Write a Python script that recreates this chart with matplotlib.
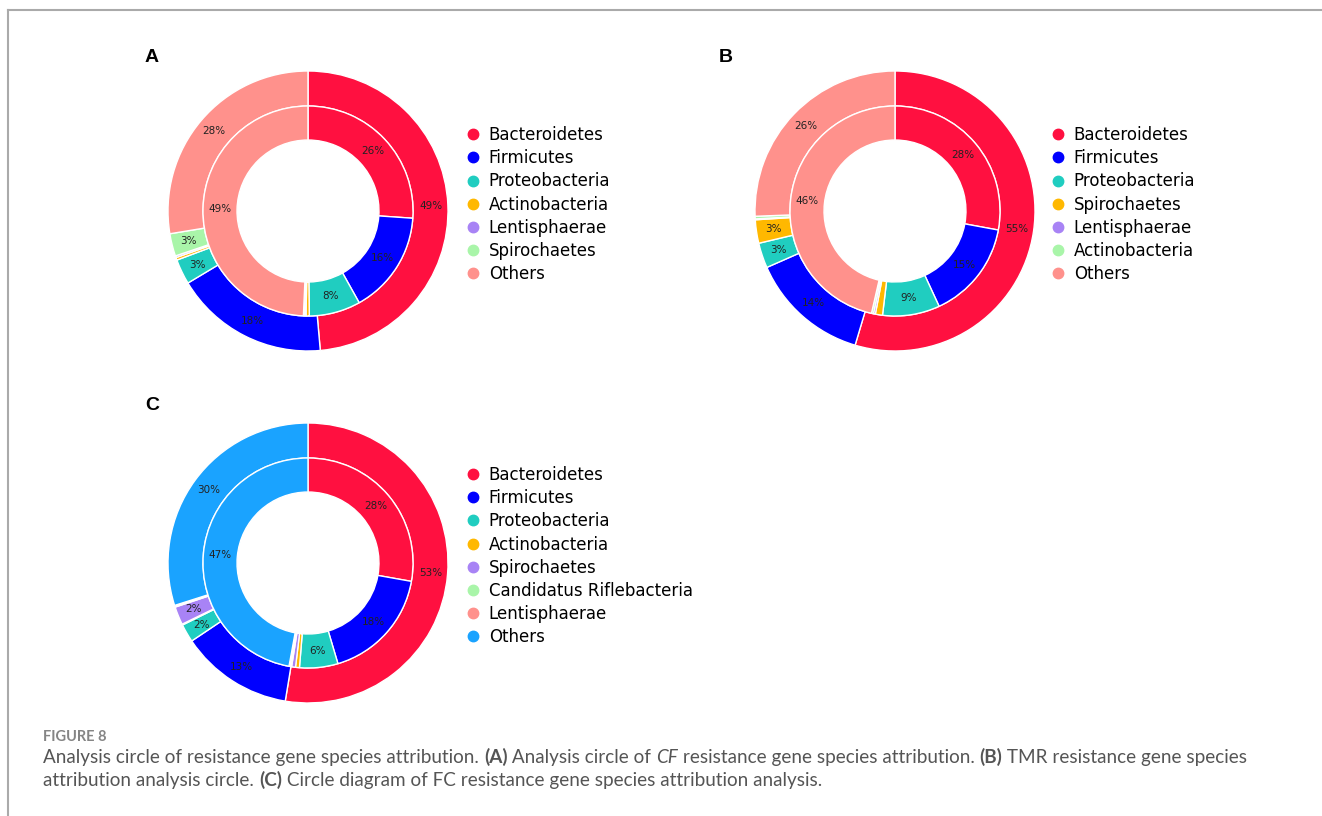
import matplotlib
matplotlib.use("Agg")
import matplotlib.pyplot as plt
from matplotlib.lines import Line2D

# 门类名称 / 内外圈占比
cats_A = ["Bacteroidetes", "Firmicutes", "Proteobacteria", "Actinobacteria",
          "Lentisphaerae", "Spirochaetes", "Others"]
outer_A = [48.6, 17.8, 2.9, 0.3, 0.2, 2.6, 27.6]
inner_A = [26.1, 15.8, 7.9, 0.5, 0.2, 0.2, 49.3]

cats_B = ["Bacteroidetes", "Firmicutes", "Proteobacteria", "Spirochaetes",
          "Lentisphaerae", "Actinobacteria", "Others"]
outer_B = [54.6, 13.8, 2.9, 2.7, 0.1, 0.3, 25.6]
inner_B = [27.9, 15.2, 8.8, 1.1, 0.3, 0.3, 46.4]

cats_C = ["Bacteroidetes", "Firmicutes", "Proteobacteria", "Actinobacteria",
          "Spirochaetes", "Candidatus Riflebacteria", "Lentisphaerae", "Others"]
outer_C = [52.6, 13.0, 2.1, 0.1, 2.1, 0.1, 0.1, 29.9]
inner_C = [27.8, 17.6, 5.9, 0.6, 0.6, 0.2, 0.2, 47.1]

palette = ["#FF1040", "#0000FF", "#20CDC0", "#FFB800", "#A883F5",
           "#A9F5A9", "#FF918C", "#1AA3FF"]

W, H = 1322, 816
fig = plt.figure(figsize=(W / 100, H / 100), dpi=100)


def fx(px):
    return px / W


def fy(py):
    return 1 - py / H


def pct_fmt(p):
    return "%.0f%%" % p if p >= 1.5 else ""


def donut(cx, cy, outer, inner, cats, leg_x, leg_y):
    r = 140
    lim = 1.05
    half = r * lim
    ax = fig.add_axes([fx(cx - half), fy(cy + half), 2 * half / W, 2 * half / H])
    cols = palette[:len(cats)]
    kw = dict(startangle=90, counterclock=False, colors=cols,
              textprops=dict(fontsize=7.5, color="#222222"),
              autopct=pct_fmt)
    ax.pie(outer, radius=1.0, pctdistance=0.88,
           wedgeprops=dict(width=0.25, edgecolor="white", linewidth=1), **kw)
    ax.pie(inner, radius=0.75, pctdistance=0.84,
           wedgeprops=dict(width=0.243, edgecolor="white", linewidth=1), **kw)
    ax.set_xlim(-lim, lim)
    ax.set_ylim(-lim, lim)
    ax.set_aspect("equal")
    ax.axis("off")

    handles = [Line2D([], [], marker="o", linestyle="none", markersize=7.5,
                      markerfacecolor=c, markeredgecolor=c) for c in cols]
    fig.legend(handles, cats, loc="upper left",
               bbox_to_anchor=(fx(leg_x), fy(leg_y)),
               frameon=False, fontsize=12, handlelength=1.0,
               handletextpad=0.45, labelspacing=0.31,
               borderpad=0, borderaxespad=0)


donut(308, 211, outer_A, inner_A, cats_A, 464.7, 126)
donut(895, 211, outer_B, inner_B, cats_B, 1049.7, 126)
donut(308, 563, outer_C, inner_C, cats_C, 464.7, 466)

for lab, x, y in [("A", 152, 58), ("B", 726, 58), ("C", 152, 405)]:
    fig.text(fx(x), fy(y), lab, fontsize=14, weight="bold",
             family="Liberation Sans", ha="center", va="center")

# 外框线
fig.add_artist(Line2D([fx(8), 1], [fy(10), fy(10)], color="#aaaaaa", lw=1.5))
fig.add_artist(Line2D([fx(8), fx(8)], [fy(10), 0], color="#aaaaaa", lw=1.5))

# 图注
fig.text(fx(43), fy(741), "FIGURE 8", fontsize=10.5, color="#858585",
         family="Lato", weight="bold", va="baseline")

renderer = fig.canvas.get_renderer()


def rich_line(x, y, parts):
    for s, weight, style in parts:
        t = fig.text(fx(x), fy(y), s, fontsize=13.6, color="#555555",
                     family="Lato", weight=weight, style=style, va="baseline")
        x += t.get_window_extent(renderer).width


rich_line(43, 763, [
    ("Analysis circle of resistance gene species attribution. ", "normal", "normal"),
    ("(A)", "bold", "normal"),
    (" Analysis circle of ", "normal", "normal"),
    ("CF", "normal", "italic"),
    (" resistance gene species attribution. ", "normal", "normal"),
    ("(B)", "bold", "normal"),
    (" TMR resistance gene species", "normal", "normal"),
])
rich_line(43, 786, [
    ("attribution analysis circle. ", "normal", "normal"),
    ("(C)", "bold", "normal"),
    (" Circle diagram of FC resistance gene species attribution analysis.", "normal", "normal"),
])

fig.savefig("out.png", dpi=100)
